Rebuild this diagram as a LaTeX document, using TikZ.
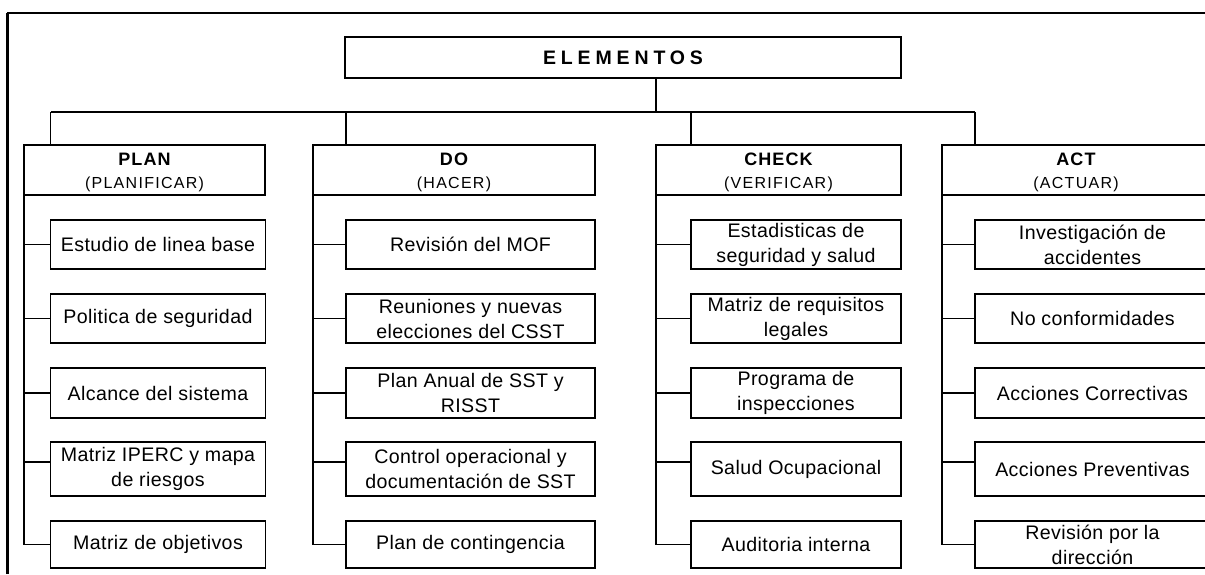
\documentclass[tikz,border=0pt]{standalone}
\usepackage{fontspec}
\setmainfont{Liberation Sans}
\newcommand{\fuentecaja}{\fontsize{19.6}{25}\selectfont\addfontfeature{LetterSpace=2}}
\newcommand{\fuentefase}{\fontsize{18}{23}\selectfont\bfseries\addfontfeature{LetterSpace=6}}
\newcommand{\fuentesub}{\fontsize{16}{23}\selectfont\addfontfeature{LetterSpace=8}}
\newcommand{\fuentetitulo}{\fontsize{19.5}{22}\selectfont\bfseries\addfontfeature{LetterSpace=25}}
\tikzset{
	caja/.style={draw,line width=1.6pt,inner sep=0,outer sep=0,minimum height=49,align=center,font=\fuentecaja},
	fase/.style={draw,line width=1.6pt,inner sep=0,outer sep=0,minimum height=50,align=center,text height=40pt,text depth=4pt,font=\fontsize{17}{23}\selectfont},
	linea/.style={line width=1.4pt}
}

\begin{document}
\begin{tikzpicture}[x=1pt,y=-1pt]
	\useasboundingbox (0,0) rectangle (1205,574);
	\clip (0,0) rectangle (1205,574);
	\draw[line width=3pt] (7,574) -- (7,13);
	\draw[line width=2.2pt] (7,13) -- (1215,13);
	\node[draw,line width=1.6pt,inner sep=0,minimum width=556,minimum height=41,font=\fuentetitulo] (elem) at (623,57.5) {ELEMENTOS};
	\node[fase,minimum width=241] (plan) at (144.5,170) {{\fuentefase PLAN}\\{\fuentesub (PLANIFICAR)}};
	\node[fase,minimum width=282] (do) at (454,170) {{\fuentefase DO}\\{\fuentesub (HACER)}};
	\node[fase,minimum width=245] (check) at (778.5,170) {{\fuentefase CHECK}\\{\fuentesub (VERIFICAR)}};
	\node[fase,minimum width=268] (act) at (1076,170) {{\fuentefase ACT}\\{\fuentesub (ACTUAR)}};
	\coordinate (bus) at (0,112);
	\node[caja,minimum width=215] (p1) at (158,244.5) {Estudio de linea base};
	\node[caja,minimum width=215] (p2) at (158,318.5) {Politica de seguridad};
	\node[caja,minimum width=215,minimum height=50] (p3) at (158,393) {Alcance del sistema};
	\node[caja,minimum width=215,minimum height=54] (p4) at (158,469) {Matriz IPERC y mapa\\de riesgos};
	\node[caja,minimum width=215,minimum height=47] (p5) at (158,544.5) {Matriz de objetivos};
	\node[caja,minimum width=249] (d1) at (470.5,244.5) {Revisión del MOF};
	\node[caja,minimum width=249] (d2) at (470.5,318.5) {Reuniones y nuevas\\elecciones del CSST};
	\node[caja,minimum width=249,minimum height=50] (d3) at (470.5,393) {Plan Anual de SST y\\RISST};
	\node[caja,minimum width=249,minimum height=54] (d4) at (470.5,469) {Control operacional y\\documentación de SST};
	\node[caja,minimum width=249,minimum height=47] (d5) at (470.5,544.5) {Plan de contingencia};
	\node[caja,minimum width=210] (c1) at (796,244.5) {Estadisticas de\\seguridad y salud};
	\node[caja,minimum width=210] (c2) at (796,318.5) {Matriz de requisitos\\legales};
	\node[caja,minimum width=210,minimum height=50] (c3) at (796,393) {Programa de\\inspecciones};
	\node[caja,minimum width=210,minimum height=54] (c4) at (796,469) {Salud Ocupacional};
	\node[caja,minimum width=210,minimum height=47] (c5) at (796,544.5) {Auditoria interna};
	\node[caja,minimum width=235] (a1) at (1092.5,244.5) {Investigación de\\accidentes};
	\node[caja,minimum width=235] (a2) at (1092.5,318.5) {No conformidades};
	\node[caja,minimum width=235,minimum height=50] (a3) at (1092.5,393) {Acciones Correctivas};
	\node[caja,minimum width=235,minimum height=54] (a4) at (1092.5,469) {Acciones Preventivas};
	\node[caja,minimum width=235,minimum height=47] (a5) at (1092.5,544.5) {Revisión por la\\dirección};
	\draw[linea] (elem.south -| check.west) -- (check.west |- bus);
	\draw[linea] (p1.west |- bus) -- (a1.west |- bus);
	\draw[linea] (p1.west |- bus) -- (p1.west |- plan.north);
	\draw[linea] (d1.west |- bus) -- (d1.west |- do.north);
	\draw[linea] (c1.west |- bus) -- (c1.west |- check.north);
	\draw[linea] (a1.west |- bus) -- (a1.west |- act.north);
	\draw[linea] (plan.south west) |- (p5.west);
	\draw[linea] (plan.south west |- p1.west) -- (p1.west);
	\draw[linea] (plan.south west |- p2.west) -- (p2.west);
	\draw[linea] (plan.south west |- p3.west) -- (p3.west);
	\draw[linea] ([yshift=7pt]p4.west -| plan.south west) -- ([yshift=7pt]p4.west);
	\draw[linea] (do.south west) |- (d5.west);
	\draw[linea] (do.south west |- d1.west) -- (d1.west);
	\draw[linea] (do.south west |- d2.west) -- (d2.west);
	\draw[linea] (do.south west |- d3.west) -- (d3.west);
	\draw[linea] ([yshift=7pt]d4.west -| do.south west) -- ([yshift=7pt]d4.west);
	\draw[linea] (check.south west) |- (c5.west);
	\draw[linea] (check.south west |- c1.west) -- (c1.west);
	\draw[linea] (check.south west |- c2.west) -- (c2.west);
	\draw[linea] (check.south west |- c3.west) -- (c3.west);
	\draw[linea] ([yshift=7pt]c4.west -| check.south west) -- ([yshift=7pt]c4.west);
	\draw[linea] (act.south west) |- (a5.west);
	\draw[linea] (act.south west |- a1.west) -- (a1.west);
	\draw[linea] (act.south west |- a2.west) -- (a2.west);
	\draw[linea] (act.south west |- a3.west) -- (a3.west);
	\draw[linea] ([yshift=7pt]a4.west -| act.south west) -- ([yshift=7pt]a4.west);
\end{tikzpicture}
\end{document}
